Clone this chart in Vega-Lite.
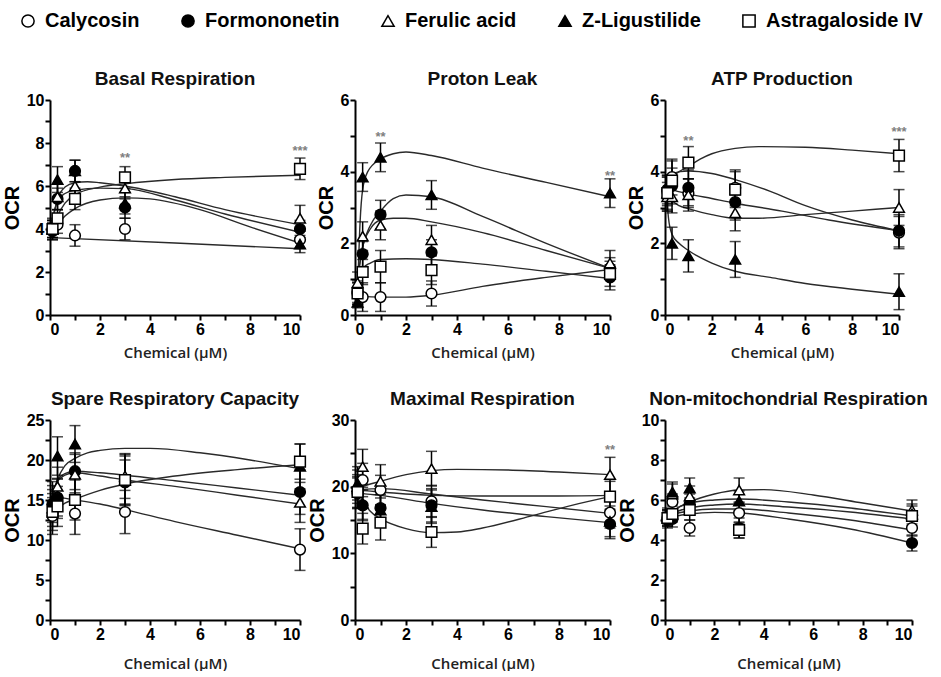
{
"$schema":"https://vega.github.io/schema/vega-lite/v6.json",
"background":"white",
"padding":{"left":2,"top":11,"right":0,"bottom":0},
"datasets":{
"pts":[
{"p":"BR","c":"Calycosin","x":0.1,"y":4.0,"e":0.4},{"p":"BR","c":"Calycosin","x":0.3,"y":4.2,"e":0.4},{"p":"BR","c":"Calycosin","x":1,"y":3.7,"e":0.5},{"p":"BR","c":"Calycosin","x":3,"y":4.0,"e":0.5},{"p":"BR","c":"Calycosin","x":10,"y":3.5,"e":0.4},
{"p":"BR","c":"Formononetin","x":0.1,"y":3.9,"e":0.4},{"p":"BR","c":"Formononetin","x":0.3,"y":5.4,"e":0.5},{"p":"BR","c":"Formononetin","x":1,"y":6.7,"e":0.5},{"p":"BR","c":"Formononetin","x":3,"y":5.0,"e":0.5},{"p":"BR","c":"Formononetin","x":10,"y":4.0,"e":0.4},
{"p":"BR","c":"Ferulic acid","x":0.1,"y":4.0,"e":0.5},{"p":"BR","c":"Ferulic acid","x":0.3,"y":5.5,"e":0.6},{"p":"BR","c":"Ferulic acid","x":1,"y":6.0,"e":0.6},{"p":"BR","c":"Ferulic acid","x":3,"y":5.9,"e":0.5},{"p":"BR","c":"Ferulic acid","x":10,"y":4.5,"e":0.6},
{"p":"BR","c":"Z-Ligustilide","x":0.1,"y":4.0,"e":0.4},{"p":"BR","c":"Z-Ligustilide","x":0.3,"y":6.3,"e":0.6},{"p":"BR","c":"Z-Ligustilide","x":1,"y":6.7,"e":0.5},{"p":"BR","c":"Z-Ligustilide","x":3,"y":5.2,"e":0.5},{"p":"BR","c":"Z-Ligustilide","x":10,"y":3.3,"e":0.4},
{"p":"BR","c":"Astragaloside IV","x":0.1,"y":4.0,"e":0.4},{"p":"BR","c":"Astragaloside IV","x":0.3,"y":4.5,"e":0.4},{"p":"BR","c":"Astragaloside IV","x":1,"y":5.4,"e":0.5},{"p":"BR","c":"Astragaloside IV","x":3,"y":6.4,"e":0.5},{"p":"BR","c":"Astragaloside IV","x":10,"y":6.8,"e":0.5},
{"p":"PL","c":"Calycosin","x":0.1,"y":0.65,"e":0.3},{"p":"PL","c":"Calycosin","x":0.3,"y":0.5,"e":0.4},{"p":"PL","c":"Calycosin","x":1,"y":0.5,"e":0.4},{"p":"PL","c":"Calycosin","x":3,"y":0.6,"e":0.35},{"p":"PL","c":"Calycosin","x":10,"y":1.3,"e":0.3},
{"p":"PL","c":"Formononetin","x":0.1,"y":0.6,"e":0.3},{"p":"PL","c":"Formononetin","x":0.3,"y":1.7,"e":0.35},{"p":"PL","c":"Formononetin","x":1,"y":2.8,"e":0.4},{"p":"PL","c":"Formononetin","x":3,"y":1.75,"e":0.35},{"p":"PL","c":"Formononetin","x":10,"y":1.05,"e":0.35},
{"p":"PL","c":"Ferulic acid","x":0.1,"y":0.9,"e":0.3},{"p":"PL","c":"Ferulic acid","x":0.3,"y":2.2,"e":0.4},{"p":"PL","c":"Ferulic acid","x":1,"y":2.5,"e":0.4},{"p":"PL","c":"Ferulic acid","x":3,"y":2.1,"e":0.4},{"p":"PL","c":"Ferulic acid","x":10,"y":1.45,"e":0.35},
{"p":"PL","c":"Z-Ligustilide","x":0.1,"y":0.35,"e":0.15},{"p":"PL","c":"Z-Ligustilide","x":0.3,"y":3.85,"e":0.4},{"p":"PL","c":"Z-Ligustilide","x":1,"y":4.4,"e":0.4},{"p":"PL","c":"Z-Ligustilide","x":3,"y":3.35,"e":0.4},{"p":"PL","c":"Z-Ligustilide","x":10,"y":3.4,"e":0.4},
{"p":"PL","c":"Astragaloside IV","x":0.1,"y":0.6,"e":0.3},{"p":"PL","c":"Astragaloside IV","x":0.3,"y":1.2,"e":0.35},{"p":"PL","c":"Astragaloside IV","x":1,"y":1.35,"e":0.45},{"p":"PL","c":"Astragaloside IV","x":3,"y":1.25,"e":0.4},{"p":"PL","c":"Astragaloside IV","x":10,"y":1.15,"e":0.35},
{"p":"ATP","c":"Calycosin","x":0.1,"y":3.45,"e":0.4},{"p":"ATP","c":"Calycosin","x":0.3,"y":3.85,"e":0.5},{"p":"ATP","c":"Calycosin","x":1,"y":3.4,"e":0.4},{"p":"ATP","c":"Calycosin","x":3,"y":3.55,"e":0.5},{"p":"ATP","c":"Calycosin","x":10,"y":2.3,"e":0.45},
{"p":"ATP","c":"Formononetin","x":0.1,"y":3.5,"e":0.4},{"p":"ATP","c":"Formononetin","x":0.3,"y":3.6,"e":0.5},{"p":"ATP","c":"Formononetin","x":1,"y":3.55,"e":0.5},{"p":"ATP","c":"Formononetin","x":3,"y":3.15,"e":0.5},{"p":"ATP","c":"Formononetin","x":10,"y":2.35,"e":0.45},
{"p":"ATP","c":"Ferulic acid","x":0.1,"y":3.3,"e":0.4},{"p":"ATP","c":"Ferulic acid","x":0.3,"y":3.3,"e":0.45},{"p":"ATP","c":"Ferulic acid","x":1,"y":3.35,"e":0.45},{"p":"ATP","c":"Ferulic acid","x":3,"y":2.85,"e":0.5},{"p":"ATP","c":"Ferulic acid","x":10,"y":3.0,"e":0.5},
{"p":"ATP","c":"Z-Ligustilide","x":0.1,"y":3.4,"e":0.45},{"p":"ATP","c":"Z-Ligustilide","x":0.3,"y":2.0,"e":0.45},{"p":"ATP","c":"Z-Ligustilide","x":1,"y":1.65,"e":0.45},{"p":"ATP","c":"Z-Ligustilide","x":3,"y":1.55,"e":0.5},{"p":"ATP","c":"Z-Ligustilide","x":10,"y":0.65,"e":0.5},
{"p":"ATP","c":"Astragaloside IV","x":0.1,"y":3.4,"e":0.5},{"p":"ATP","c":"Astragaloside IV","x":0.3,"y":3.75,"e":0.55},{"p":"ATP","c":"Astragaloside IV","x":1,"y":4.25,"e":0.45},{"p":"ATP","c":"Astragaloside IV","x":3,"y":3.5,"e":0.5},{"p":"ATP","c":"Astragaloside IV","x":10,"y":4.45,"e":0.45},
{"p":"SRC","c":"Calycosin","x":0.1,"y":13.0,"e":2.3},{"p":"SRC","c":"Calycosin","x":0.3,"y":15.3,"e":2.3},{"p":"SRC","c":"Calycosin","x":1,"y":13.3,"e":2.6},{"p":"SRC","c":"Calycosin","x":3,"y":13.5,"e":2.7},{"p":"SRC","c":"Calycosin","x":10,"y":8.8,"e":2.6},
{"p":"SRC","c":"Formononetin","x":0.1,"y":14.5,"e":2.3},{"p":"SRC","c":"Formononetin","x":0.3,"y":15.2,"e":2.5},{"p":"SRC","c":"Formononetin","x":1,"y":18.6,"e":2.3},{"p":"SRC","c":"Formononetin","x":3,"y":17.2,"e":2.8},{"p":"SRC","c":"Formononetin","x":10,"y":16.0,"e":2.8},
{"p":"SRC","c":"Ferulic acid","x":0.1,"y":14.0,"e":2.3},{"p":"SRC","c":"Ferulic acid","x":0.3,"y":16.7,"e":2.4},{"p":"SRC","c":"Ferulic acid","x":1,"y":18.2,"e":2.5},{"p":"SRC","c":"Ferulic acid","x":3,"y":18.0,"e":2.8},{"p":"SRC","c":"Ferulic acid","x":10,"y":14.7,"e":2.5},
{"p":"SRC","c":"Z-Ligustilide","x":0.1,"y":15.0,"e":2.3},{"p":"SRC","c":"Z-Ligustilide","x":0.3,"y":20.5,"e":2.4},{"p":"SRC","c":"Z-Ligustilide","x":1,"y":22.0,"e":2.3},{"p":"SRC","c":"Z-Ligustilide","x":3,"y":17.5,"e":3.2},{"p":"SRC","c":"Z-Ligustilide","x":10,"y":19.2,"e":2.8},
{"p":"SRC","c":"Astragaloside IV","x":0.1,"y":13.5,"e":2.3},{"p":"SRC","c":"Astragaloside IV","x":0.3,"y":14.2,"e":2.5},{"p":"SRC","c":"Astragaloside IV","x":1,"y":15.0,"e":2.5},{"p":"SRC","c":"Astragaloside IV","x":3,"y":17.5,"e":3.0},{"p":"SRC","c":"Astragaloside IV","x":10,"y":19.8,"e":2.2},
{"p":"MR","c":"Calycosin","x":0.1,"y":19.3,"e":2.5},{"p":"MR","c":"Calycosin","x":0.3,"y":21.0,"e":2.5},{"p":"MR","c":"Calycosin","x":1,"y":19.5,"e":2.2},{"p":"MR","c":"Calycosin","x":3,"y":17.8,"e":2.4},{"p":"MR","c":"Calycosin","x":10,"y":16.1,"e":2.3},
{"p":"MR","c":"Formononetin","x":0.1,"y":19.0,"e":2.3},{"p":"MR","c":"Formononetin","x":0.3,"y":17.2,"e":2.3},{"p":"MR","c":"Formononetin","x":1,"y":16.8,"e":2.3},{"p":"MR","c":"Formononetin","x":3,"y":17.2,"e":2.5},{"p":"MR","c":"Formononetin","x":10,"y":14.4,"e":2.2},
{"p":"MR","c":"Ferulic acid","x":0.1,"y":20.0,"e":2.5},{"p":"MR","c":"Ferulic acid","x":0.3,"y":23.0,"e":2.6},{"p":"MR","c":"Ferulic acid","x":1,"y":20.8,"e":2.5},{"p":"MR","c":"Ferulic acid","x":3,"y":22.7,"e":2.6},{"p":"MR","c":"Ferulic acid","x":10,"y":21.8,"e":2.6},
{"p":"MR","c":"Z-Ligustilide","x":0.1,"y":20.5,"e":2.5},{"p":"MR","c":"Z-Ligustilide","x":0.3,"y":17.5,"e":2.4},{"p":"MR","c":"Z-Ligustilide","x":1,"y":16.5,"e":2.3},{"p":"MR","c":"Z-Ligustilide","x":3,"y":17.0,"e":2.5},{"p":"MR","c":"Z-Ligustilide","x":10,"y":14.8,"e":2.3},
{"p":"MR","c":"Astragaloside IV","x":0.1,"y":19.2,"e":2.3},{"p":"MR","c":"Astragaloside IV","x":0.3,"y":13.7,"e":2.3},{"p":"MR","c":"Astragaloside IV","x":1,"y":14.6,"e":2.6},{"p":"MR","c":"Astragaloside IV","x":3,"y":13.2,"e":2.3},{"p":"MR","c":"Astragaloside IV","x":10,"y":18.5,"e":2.3},
{"p":"NMR","c":"Calycosin","x":0.1,"y":5.1,"e":0.4},{"p":"NMR","c":"Calycosin","x":0.3,"y":5.9,"e":0.4},{"p":"NMR","c":"Calycosin","x":1,"y":4.6,"e":0.4},{"p":"NMR","c":"Calycosin","x":3,"y":5.35,"e":0.5},{"p":"NMR","c":"Calycosin","x":10,"y":4.6,"e":0.4},
{"p":"NMR","c":"Formononetin","x":0.1,"y":5.0,"e":0.4},{"p":"NMR","c":"Formononetin","x":0.3,"y":5.05,"e":0.4},{"p":"NMR","c":"Formononetin","x":1,"y":5.8,"e":0.5},{"p":"NMR","c":"Formononetin","x":3,"y":4.6,"e":0.5},{"p":"NMR","c":"Formononetin","x":10,"y":3.85,"e":0.4},
{"p":"NMR","c":"Ferulic acid","x":0.1,"y":5.2,"e":0.4},{"p":"NMR","c":"Ferulic acid","x":0.3,"y":6.3,"e":0.5},{"p":"NMR","c":"Ferulic acid","x":1,"y":6.2,"e":0.5},{"p":"NMR","c":"Ferulic acid","x":3,"y":6.5,"e":0.6},{"p":"NMR","c":"Ferulic acid","x":10,"y":5.5,"e":0.5},
{"p":"NMR","c":"Z-Ligustilide","x":0.1,"y":5.1,"e":0.4},{"p":"NMR","c":"Z-Ligustilide","x":0.3,"y":6.4,"e":0.5},{"p":"NMR","c":"Z-Ligustilide","x":1,"y":6.6,"e":0.5},{"p":"NMR","c":"Z-Ligustilide","x":3,"y":5.95,"e":0.5},{"p":"NMR","c":"Z-Ligustilide","x":10,"y":5.3,"e":0.5},
{"p":"NMR","c":"Astragaloside IV","x":0.1,"y":5.1,"e":0.4},{"p":"NMR","c":"Astragaloside IV","x":0.3,"y":5.3,"e":0.4},{"p":"NMR","c":"Astragaloside IV","x":1,"y":5.5,"e":0.5},{"p":"NMR","c":"Astragaloside IV","x":3,"y":4.5,"e":0.4},{"p":"NMR","c":"Astragaloside IV","x":10,"y":5.2,"e":0.5}
],
"curves":[
{"p":"BR","k":"Ca","x":0.05,"y":3.6},{"p":"BR","k":"Ca","x":5,"y":3.35},{"p":"BR","k":"Ca","x":10,"y":3.08},
{"p":"BR","k":"Fe","x":0.1,"y":4.3},{"p":"BR","k":"Fe","x":0.3,"y":5.4},{"p":"BR","k":"Fe","x":0.6,"y":5.95},{"p":"BR","k":"Fe","x":1,"y":6.15},{"p":"BR","k":"Fe","x":1.5,"y":6.2},{"p":"BR","k":"Fe","x":2,"y":6.15},{"p":"BR","k":"Fe","x":3,"y":6.0},{"p":"BR","k":"Fe","x":5,"y":5.5},{"p":"BR","k":"Fe","x":7,"y":4.9},{"p":"BR","k":"Fe","x":10,"y":4.2},
{"p":"BR","k":"Z","x":0.1,"y":4.5},{"p":"BR","k":"Z","x":0.3,"y":5.3},{"p":"BR","k":"Z","x":0.6,"y":5.65},{"p":"BR","k":"Z","x":1,"y":5.8},{"p":"BR","k":"Z","x":2,"y":5.9},{"p":"BR","k":"Z","x":3,"y":5.88},{"p":"BR","k":"Z","x":5,"y":5.35},{"p":"BR","k":"Z","x":7,"y":4.7},{"p":"BR","k":"Z","x":10,"y":3.85},
{"p":"BR","k":"Fo","x":0.1,"y":3.9},{"p":"BR","k":"Fo","x":0.3,"y":4.2},{"p":"BR","k":"Fo","x":0.6,"y":4.6},{"p":"BR","k":"Fo","x":1,"y":4.95},{"p":"BR","k":"Fo","x":2,"y":5.35},{"p":"BR","k":"Fo","x":3,"y":5.45},{"p":"BR","k":"Fo","x":4,"y":5.4},{"p":"BR","k":"Fo","x":6,"y":4.9},{"p":"BR","k":"Fo","x":8,"y":4.1},{"p":"BR","k":"Fo","x":10,"y":3.35},
{"p":"BR","k":"As","x":0.1,"y":4.0},{"p":"BR","k":"As","x":0.3,"y":4.6},{"p":"BR","k":"As","x":0.6,"y":5.2},{"p":"BR","k":"As","x":1,"y":5.6},{"p":"BR","k":"As","x":2,"y":5.95},{"p":"BR","k":"As","x":3,"y":6.1},{"p":"BR","k":"As","x":5,"y":6.3},{"p":"BR","k":"As","x":7,"y":6.4},{"p":"BR","k":"As","x":10,"y":6.5},
{"p":"PL","k":"Z","x":0.1,"y":0.6},{"p":"PL","k":"Z","x":0.2,"y":2.6},{"p":"PL","k":"Z","x":0.3,"y":3.5},{"p":"PL","k":"Z","x":0.5,"y":4.0},{"p":"PL","k":"Z","x":1,"y":4.35},{"p":"PL","k":"Z","x":1.5,"y":4.5},{"p":"PL","k":"Z","x":2,"y":4.55},{"p":"PL","k":"Z","x":3,"y":4.45},{"p":"PL","k":"Z","x":5,"y":4.1},{"p":"PL","k":"Z","x":7.5,"y":3.7},{"p":"PL","k":"Z","x":10,"y":3.3},
{"p":"PL","k":"Fo","x":0.1,"y":1.0},{"p":"PL","k":"Fo","x":0.3,"y":1.9},{"p":"PL","k":"Fo","x":0.6,"y":2.5},{"p":"PL","k":"Fo","x":1,"y":2.9},{"p":"PL","k":"Fo","x":1.5,"y":3.25},{"p":"PL","k":"Fo","x":2,"y":3.35},{"p":"PL","k":"Fo","x":3,"y":3.3},{"p":"PL","k":"Fo","x":5,"y":2.75},{"p":"PL","k":"Fo","x":7.5,"y":2.0},{"p":"PL","k":"Fo","x":10,"y":1.3},
{"p":"PL","k":"Fe","x":0.1,"y":1.0},{"p":"PL","k":"Fe","x":0.3,"y":1.9},{"p":"PL","k":"Fe","x":0.6,"y":2.4},{"p":"PL","k":"Fe","x":1,"y":2.65},{"p":"PL","k":"Fe","x":1.5,"y":2.7},{"p":"PL","k":"Fe","x":2,"y":2.7},{"p":"PL","k":"Fe","x":3,"y":2.6},{"p":"PL","k":"Fe","x":5,"y":2.3},{"p":"PL","k":"Fe","x":7.5,"y":1.8},{"p":"PL","k":"Fe","x":10,"y":1.3},
{"p":"PL","k":"As","x":0.1,"y":1.0},{"p":"PL","k":"As","x":0.3,"y":1.3},{"p":"PL","k":"As","x":0.6,"y":1.45},{"p":"PL","k":"As","x":1,"y":1.55},{"p":"PL","k":"As","x":2,"y":1.57},{"p":"PL","k":"As","x":3,"y":1.55},{"p":"PL","k":"As","x":5,"y":1.42},{"p":"PL","k":"As","x":7.5,"y":1.22},{"p":"PL","k":"As","x":10,"y":1.02},
{"p":"PL","k":"Ca","x":0.1,"y":0.6},{"p":"PL","k":"Ca","x":0.3,"y":0.52},{"p":"PL","k":"Ca","x":1,"y":0.5},{"p":"PL","k":"Ca","x":2,"y":0.5},{"p":"PL","k":"Ca","x":3,"y":0.55},{"p":"PL","k":"Ca","x":5,"y":0.8},{"p":"PL","k":"Ca","x":7.5,"y":1.05},{"p":"PL","k":"Ca","x":10,"y":1.27},
{"p":"ATP","k":"As","x":0.1,"y":3.7},{"p":"ATP","k":"As","x":0.3,"y":3.85},{"p":"ATP","k":"As","x":0.6,"y":4.0},{"p":"ATP","k":"As","x":1,"y":4.15},{"p":"ATP","k":"As","x":1.5,"y":4.35},{"p":"ATP","k":"As","x":2,"y":4.5},{"p":"ATP","k":"As","x":3,"y":4.65},{"p":"ATP","k":"As","x":4,"y":4.7},{"p":"ATP","k":"As","x":6,"y":4.68},{"p":"ATP","k":"As","x":8,"y":4.6},{"p":"ATP","k":"As","x":10,"y":4.5},
{"p":"ATP","k":"Ca","x":0.1,"y":3.8},{"p":"ATP","k":"Ca","x":0.3,"y":3.95},{"p":"ATP","k":"Ca","x":1,"y":4.02},{"p":"ATP","k":"Ca","x":2,"y":3.95},{"p":"ATP","k":"Ca","x":3,"y":3.78},{"p":"ATP","k":"Ca","x":4.5,"y":3.45},{"p":"ATP","k":"Ca","x":6,"y":3.05},{"p":"ATP","k":"Ca","x":8,"y":2.65},{"p":"ATP","k":"Ca","x":10,"y":2.35},
{"p":"ATP","k":"Fo","x":0.1,"y":3.55},{"p":"ATP","k":"Fo","x":0.3,"y":3.5},{"p":"ATP","k":"Fo","x":1,"y":3.38},{"p":"ATP","k":"Fo","x":2,"y":3.25},{"p":"ATP","k":"Fo","x":3,"y":3.12},{"p":"ATP","k":"Fo","x":5,"y":2.9},{"p":"ATP","k":"Fo","x":7,"y":2.65},{"p":"ATP","k":"Fo","x":10,"y":2.35},
{"p":"ATP","k":"Fe","x":0.1,"y":3.4},{"p":"ATP","k":"Fe","x":0.3,"y":3.2},{"p":"ATP","k":"Fe","x":0.6,"y":3.05},{"p":"ATP","k":"Fe","x":1,"y":2.97},{"p":"ATP","k":"Fe","x":2,"y":2.8},{"p":"ATP","k":"Fe","x":3,"y":2.7},{"p":"ATP","k":"Fe","x":4,"y":2.7},{"p":"ATP","k":"Fe","x":6,"y":2.8},{"p":"ATP","k":"Fe","x":8,"y":2.9},{"p":"ATP","k":"Fe","x":10,"y":3.0},
{"p":"ATP","k":"Z","x":0.05,"y":3.6},{"p":"ATP","k":"Z","x":0.15,"y":2.7},{"p":"ATP","k":"Z","x":0.3,"y":2.25},{"p":"ATP","k":"Z","x":0.6,"y":2.0},{"p":"ATP","k":"Z","x":1,"y":1.8},{"p":"ATP","k":"Z","x":2,"y":1.45},{"p":"ATP","k":"Z","x":3,"y":1.22},{"p":"ATP","k":"Z","x":4.5,"y":1.05},{"p":"ATP","k":"Z","x":6,"y":0.88},{"p":"ATP","k":"Z","x":8,"y":0.72},{"p":"ATP","k":"Z","x":10,"y":0.58},
{"p":"SRC","k":"Ca","x":0.1,"y":15.2},{"p":"SRC","k":"Ca","x":0.3,"y":15.3},{"p":"SRC","k":"Ca","x":1,"y":15.0},{"p":"SRC","k":"Ca","x":2,"y":14.5},{"p":"SRC","k":"Ca","x":3,"y":13.8},{"p":"SRC","k":"Ca","x":5,"y":12.3},{"p":"SRC","k":"Ca","x":7.5,"y":10.6},{"p":"SRC","k":"Ca","x":10,"y":8.9},
{"p":"SRC","k":"Z","x":0.1,"y":15.0},{"p":"SRC","k":"Z","x":0.3,"y":17.5},{"p":"SRC","k":"Z","x":0.6,"y":19.3},{"p":"SRC","k":"Z","x":1,"y":20.2},{"p":"SRC","k":"Z","x":1.5,"y":20.9},{"p":"SRC","k":"Z","x":2,"y":21.2},{"p":"SRC","k":"Z","x":3,"y":21.45},{"p":"SRC","k":"Z","x":4,"y":21.45},{"p":"SRC","k":"Z","x":6,"y":20.9},{"p":"SRC","k":"Z","x":8,"y":20.0},{"p":"SRC","k":"Z","x":10,"y":18.9},
{"p":"SRC","k":"Fo","x":0.1,"y":15.5},{"p":"SRC","k":"Fo","x":0.3,"y":17.5},{"p":"SRC","k":"Fo","x":0.6,"y":18.3},{"p":"SRC","k":"Fo","x":1,"y":18.6},{"p":"SRC","k":"Fo","x":2,"y":18.4},{"p":"SRC","k":"Fo","x":3,"y":18.1},{"p":"SRC","k":"Fo","x":5,"y":17.4},{"p":"SRC","k":"Fo","x":7.5,"y":16.5},{"p":"SRC","k":"Fo","x":10,"y":15.6},
{"p":"SRC","k":"Fe","x":0.1,"y":15.5},{"p":"SRC","k":"Fe","x":0.3,"y":17.3},{"p":"SRC","k":"Fe","x":0.6,"y":18.1},{"p":"SRC","k":"Fe","x":1,"y":18.4},{"p":"SRC","k":"Fe","x":2,"y":18.0},{"p":"SRC","k":"Fe","x":3,"y":17.5},{"p":"SRC","k":"Fe","x":5,"y":16.7},{"p":"SRC","k":"Fe","x":7.5,"y":15.6},{"p":"SRC","k":"Fe","x":10,"y":14.5},
{"p":"SRC","k":"As","x":0.1,"y":13.3},{"p":"SRC","k":"As","x":0.3,"y":14.0},{"p":"SRC","k":"As","x":0.6,"y":14.6},{"p":"SRC","k":"As","x":1,"y":15.1},{"p":"SRC","k":"As","x":2,"y":16.2},{"p":"SRC","k":"As","x":3,"y":17.0},{"p":"SRC","k":"As","x":5,"y":18.0},{"p":"SRC","k":"As","x":7.5,"y":18.8},{"p":"SRC","k":"As","x":10,"y":19.4},
{"p":"MR","k":"Fe","x":0.1,"y":19.6},{"p":"MR","k":"Fe","x":0.3,"y":20.0},{"p":"MR","k":"Fe","x":1,"y":20.8},{"p":"MR","k":"Fe","x":2,"y":21.8},{"p":"MR","k":"Fe","x":3,"y":22.4},{"p":"MR","k":"Fe","x":4,"y":22.6},{"p":"MR","k":"Fe","x":6,"y":22.5},{"p":"MR","k":"Fe","x":8,"y":22.2},{"p":"MR","k":"Fe","x":10,"y":21.8},
{"p":"MR","k":"As","x":0.1,"y":19.6},{"p":"MR","k":"As","x":0.3,"y":18.0},{"p":"MR","k":"As","x":0.6,"y":16.3},{"p":"MR","k":"As","x":1,"y":15.2},{"p":"MR","k":"As","x":2,"y":13.7},{"p":"MR","k":"As","x":3,"y":13.1},{"p":"MR","k":"As","x":4,"y":13.2},{"p":"MR","k":"As","x":5,"y":13.8},{"p":"MR","k":"As","x":7,"y":15.7},{"p":"MR","k":"As","x":8.5,"y":17.2},{"p":"MR","k":"As","x":10,"y":18.5},
{"p":"MR","k":"Z","x":0.1,"y":19.2},{"p":"MR","k":"Z","x":0.3,"y":19.4},{"p":"MR","k":"Z","x":1,"y":19.2},{"p":"MR","k":"Z","x":3,"y":18.7},{"p":"MR","k":"Z","x":5,"y":18.6},{"p":"MR","k":"Z","x":7.5,"y":18.6},{"p":"MR","k":"Z","x":10,"y":18.7},
{"p":"MR","k":"Ca","x":0.1,"y":19.4},{"p":"MR","k":"Ca","x":0.3,"y":19.6},{"p":"MR","k":"Ca","x":1,"y":19.7},{"p":"MR","k":"Ca","x":3,"y":18.9},{"p":"MR","k":"Ca","x":5,"y":18.0},{"p":"MR","k":"Ca","x":7.5,"y":17.0},{"p":"MR","k":"Ca","x":10,"y":16.0},
{"p":"MR","k":"Fo","x":0.1,"y":19.2},{"p":"MR","k":"Fo","x":0.3,"y":19.0},{"p":"MR","k":"Fo","x":1,"y":18.7},{"p":"MR","k":"Fo","x":3,"y":17.5},{"p":"MR","k":"Fo","x":5,"y":16.5},{"p":"MR","k":"Fo","x":7.5,"y":15.5},{"p":"MR","k":"Fo","x":10,"y":14.6},
{"p":"NMR","k":"Fe","x":0.1,"y":5.1},{"p":"NMR","k":"Fe","x":0.3,"y":5.4},{"p":"NMR","k":"Fe","x":1,"y":5.9},{"p":"NMR","k":"Fe","x":2,"y":6.3},{"p":"NMR","k":"Fe","x":3,"y":6.5},{"p":"NMR","k":"Fe","x":4,"y":6.52},{"p":"NMR","k":"Fe","x":6,"y":6.25},{"p":"NMR","k":"Fe","x":8,"y":5.85},{"p":"NMR","k":"Fe","x":10,"y":5.45},
{"p":"NMR","k":"Z","x":0.1,"y":5.1},{"p":"NMR","k":"Z","x":0.3,"y":5.4},{"p":"NMR","k":"Z","x":1,"y":5.85},{"p":"NMR","k":"Z","x":2,"y":6.0},{"p":"NMR","k":"Z","x":3,"y":6.05},{"p":"NMR","k":"Z","x":5,"y":5.9},{"p":"NMR","k":"Z","x":7.5,"y":5.6},{"p":"NMR","k":"Z","x":10,"y":5.2},
{"p":"NMR","k":"As","x":0.1,"y":5.05},{"p":"NMR","k":"As","x":0.3,"y":5.3},{"p":"NMR","k":"As","x":1,"y":5.6},{"p":"NMR","k":"As","x":2,"y":5.75},{"p":"NMR","k":"As","x":3,"y":5.8},{"p":"NMR","k":"As","x":5,"y":5.65},{"p":"NMR","k":"As","x":7.5,"y":5.4},{"p":"NMR","k":"As","x":10,"y":5.05},
{"p":"NMR","k":"Ca","x":0.1,"y":5.0},{"p":"NMR","k":"Ca","x":0.3,"y":5.25},{"p":"NMR","k":"Ca","x":1,"y":5.45},{"p":"NMR","k":"Ca","x":2,"y":5.55},{"p":"NMR","k":"Ca","x":3,"y":5.55},{"p":"NMR","k":"Ca","x":5,"y":5.35},{"p":"NMR","k":"Ca","x":7.5,"y":5.0},{"p":"NMR","k":"Ca","x":10,"y":4.5},
{"p":"NMR","k":"Fo","x":0.1,"y":5.0},{"p":"NMR","k":"Fo","x":0.3,"y":5.15},{"p":"NMR","k":"Fo","x":1,"y":5.3},{"p":"NMR","k":"Fo","x":2,"y":5.38},{"p":"NMR","k":"Fo","x":3,"y":5.35},{"p":"NMR","k":"Fo","x":5,"y":5.05},{"p":"NMR","k":"Fo","x":7.5,"y":4.55},{"p":"NMR","k":"Fo","x":10,"y":3.85}
],
"sig":[
{"p":"BR","x":3,"y":7.45,"t":"**"},{"p":"BR","x":10,"y":7.75,"t":"***"},
{"p":"PL","x":1,"y":5.05,"t":"**"},{"p":"PL","x":10,"y":3.95,"t":"**"},
{"p":"ATP","x":1,"y":4.95,"t":"**"},{"p":"ATP","x":10,"y":5.2,"t":"***"},
{"p":"MR","x":10,"y":25.9,"t":"**"}
]
},
"concat":[
{"width":250,"height":215,"title":"Basal Respiration",
"encoding":{"x":{"field":"x","type":"quantitative","scale":{"domain":[0,10]},"axis":{"values":[0,1,2,3,4,5,6,7,8,9,10],"labelExpr":"datum.value % 2 == 0 ? datum.label : ''","title":"Chemical (μM)"}},
"y":{"field":"y","type":"quantitative","scale":{"domain":[0,10]},"axis":{"values":[0,1,2,3,4,5,6,7,8,9,10],"labelExpr":"datum.value % 2 == 0 ? datum.label : ''","title":"OCR"}}},
"layer":[
{"data":{"name":"curves"},"transform":[{"filter":"datum.p == 'BR'"}],"mark":{"type":"line","interpolate":"monotone","color":"#2a2a2a","strokeWidth":1.4},"encoding":{"detail":{"field":"k"}}},
{"data":{"name":"pts"},"transform":[{"filter":"datum.p == 'BR'"}],"mark":{"type":"errorbar","color":"black","thickness":1.5,"ticks":{"size":11,"thickness":1.5,"color":"black"}},"encoding":{"yError":{"field":"e"}}},
{"data":{"name":"pts"},"transform":[{"filter":"datum.p == 'BR'"}],"mark":{"type":"point","size":115,"strokeWidth":1.5,"stroke":"black","opacity":1,"fillOpacity":1},
"encoding":{"shape":{"field":"c","type":"nominal","scale":{"domain":["Calycosin","Formononetin","Ferulic acid","Z-Ligustilide","Astragaloside IV"],"range":["circle","circle","triangle-up","triangle-up","square"]},"legend":{"title":null,"orient":"none","legendX":-32,"legendY":-89,"direction":"horizontal","columnPadding":38,"symbolSize":150,"labelFont":"Liberation Sans","labelFontSize":20,"labelFontWeight":"bold","labelColor":"black","labelOffset":7,"labelLimit":300,"encode":{"symbols":{"update":{"stroke":{"value":"black"},"strokeWidth":{"value":1.5}}}}}},
"fill":{"field":"c","type":"nominal","scale":{"domain":["Calycosin","Formononetin","Ferulic acid","Z-Ligustilide","Astragaloside IV"],"range":["white","black","white","black","white"]},"legend":{"title":null,"orient":"none","legendX":-32,"legendY":-89,"direction":"horizontal","columnPadding":38,"symbolSize":150,"labelFont":"Liberation Sans","labelFontSize":20,"labelFontWeight":"bold","labelColor":"black","labelOffset":7,"labelLimit":300,"encode":{"symbols":{"update":{"stroke":{"value":"black"},"strokeWidth":{"value":1.5}}}}}}}},
{"data":{"name":"sig"},"transform":[{"filter":"datum.p == 'BR'"}],"mark":{"type":"text","color":"#808080","fontSize":13,"fontWeight":"bold","font":"Liberation Sans","dy":3},"encoding":{"text":{"field":"t"}}}
]},
{"width":255,"height":215,"title":"Proton Leak",
"encoding":{"x":{"field":"x","type":"quantitative","scale":{"domain":[0,10]},"axis":{"values":[0,1,2,3,4,5,6,7,8,9,10],"labelExpr":"datum.value % 2 == 0 ? datum.label : ''","title":"Chemical (μM)"}},
"y":{"field":"y","type":"quantitative","scale":{"domain":[0,6]},"axis":{"values":[0,1,2,3,4,5,6],"labelExpr":"datum.value % 2 == 0 ? datum.label : ''","title":"OCR"}}},
"layer":[
{"data":{"name":"curves"},"transform":[{"filter":"datum.p == 'PL'"}],"mark":{"type":"line","interpolate":"monotone","color":"#2a2a2a","strokeWidth":1.4},"encoding":{"detail":{"field":"k"}}},
{"data":{"name":"pts"},"transform":[{"filter":"datum.p == 'PL'"}],"mark":{"type":"errorbar","color":"black","thickness":1.5,"ticks":{"size":11,"thickness":1.5,"color":"black"}},"encoding":{"yError":{"field":"e"}}},
{"data":{"name":"pts"},"transform":[{"filter":"datum.p == 'PL'"}],"mark":{"type":"point","size":115,"strokeWidth":1.5,"stroke":"black","opacity":1,"fillOpacity":1},
"encoding":{"shape":{"field":"c","type":"nominal","scale":{"domain":["Calycosin","Formononetin","Ferulic acid","Z-Ligustilide","Astragaloside IV"],"range":["circle","circle","triangle-up","triangle-up","square"]},"legend":{"title":null,"orient":"none","legendX":-32,"legendY":-89,"direction":"horizontal","columnPadding":38,"symbolSize":150,"labelFont":"Liberation Sans","labelFontSize":20,"labelFontWeight":"bold","labelColor":"black","labelOffset":7,"labelLimit":300,"encode":{"symbols":{"update":{"stroke":{"value":"black"},"strokeWidth":{"value":1.5}}}}}},
"fill":{"field":"c","type":"nominal","scale":{"domain":["Calycosin","Formononetin","Ferulic acid","Z-Ligustilide","Astragaloside IV"],"range":["white","black","white","black","white"]},"legend":{"title":null,"orient":"none","legendX":-32,"legendY":-89,"direction":"horizontal","columnPadding":38,"symbolSize":150,"labelFont":"Liberation Sans","labelFontSize":20,"labelFontWeight":"bold","labelColor":"black","labelOffset":7,"labelLimit":300,"encode":{"symbols":{"update":{"stroke":{"value":"black"},"strokeWidth":{"value":1.5}}}}}}}},
{"data":{"name":"sig"},"transform":[{"filter":"datum.p == 'PL'"}],"mark":{"type":"text","color":"#808080","fontSize":13,"fontWeight":"bold","font":"Liberation Sans","dy":3},"encoding":{"text":{"field":"t"}}}
]},
{"width":234,"height":215,"title":"ATP Production",
"encoding":{"x":{"field":"x","type":"quantitative","scale":{"domain":[0,10]},"axis":{"values":[0,1,2,3,4,5,6,7,8,9,10],"labelExpr":"datum.value % 2 == 0 ? datum.label : ''","title":"Chemical (μM)"}},
"y":{"field":"y","type":"quantitative","scale":{"domain":[0,6]},"axis":{"values":[0,1,2,3,4,5,6],"labelExpr":"datum.value % 2 == 0 ? datum.label : ''","title":"OCR"}}},
"layer":[
{"data":{"name":"curves"},"transform":[{"filter":"datum.p == 'ATP'"}],"mark":{"type":"line","interpolate":"monotone","color":"#2a2a2a","strokeWidth":1.4},"encoding":{"detail":{"field":"k"}}},
{"data":{"name":"pts"},"transform":[{"filter":"datum.p == 'ATP'"}],"mark":{"type":"errorbar","color":"black","thickness":1.5,"ticks":{"size":11,"thickness":1.5,"color":"black"}},"encoding":{"yError":{"field":"e"}}},
{"data":{"name":"pts"},"transform":[{"filter":"datum.p == 'ATP'"}],"mark":{"type":"point","size":115,"strokeWidth":1.5,"stroke":"black","opacity":1,"fillOpacity":1},
"encoding":{"shape":{"field":"c","type":"nominal","scale":{"domain":["Calycosin","Formononetin","Ferulic acid","Z-Ligustilide","Astragaloside IV"],"range":["circle","circle","triangle-up","triangle-up","square"]},"legend":{"title":null,"orient":"none","legendX":-32,"legendY":-89,"direction":"horizontal","columnPadding":38,"symbolSize":150,"labelFont":"Liberation Sans","labelFontSize":20,"labelFontWeight":"bold","labelColor":"black","labelOffset":7,"labelLimit":300,"encode":{"symbols":{"update":{"stroke":{"value":"black"},"strokeWidth":{"value":1.5}}}}}},
"fill":{"field":"c","type":"nominal","scale":{"domain":["Calycosin","Formononetin","Ferulic acid","Z-Ligustilide","Astragaloside IV"],"range":["white","black","white","black","white"]},"legend":{"title":null,"orient":"none","legendX":-32,"legendY":-89,"direction":"horizontal","columnPadding":38,"symbolSize":150,"labelFont":"Liberation Sans","labelFontSize":20,"labelFontWeight":"bold","labelColor":"black","labelOffset":7,"labelLimit":300,"encode":{"symbols":{"update":{"stroke":{"value":"black"},"strokeWidth":{"value":1.5}}}}}}}},
{"data":{"name":"sig"},"transform":[{"filter":"datum.p == 'ATP'"}],"mark":{"type":"text","color":"#808080","fontSize":13,"fontWeight":"bold","font":"Liberation Sans","dy":3},"encoding":{"text":{"field":"t"}}}
]},
{"width":250,"height":200,"title":"Spare Respiratory Capacity",
"encoding":{"x":{"field":"x","type":"quantitative","scale":{"domain":[0,10]},"axis":{"values":[0,1,2,3,4,5,6,7,8,9,10],"labelExpr":"datum.value % 2 == 0 ? datum.label : ''","title":"Chemical (μM)","titlePadding":14}},
"y":{"field":"y","type":"quantitative","scale":{"domain":[0,25]},"axis":{"values":[0,2.5,5,7.5,10,12.5,15,17.5,20,22.5,25],"labelExpr":"datum.value % 5 == 0 ? datum.label : ''","title":"OCR"}}},
"layer":[
{"data":{"name":"curves"},"transform":[{"filter":"datum.p == 'SRC'"}],"mark":{"type":"line","interpolate":"monotone","color":"#2a2a2a","strokeWidth":1.4},"encoding":{"detail":{"field":"k"}}},
{"data":{"name":"pts"},"transform":[{"filter":"datum.p == 'SRC'"}],"mark":{"type":"errorbar","color":"black","thickness":1.5,"ticks":{"size":11,"thickness":1.5,"color":"black"}},"encoding":{"yError":{"field":"e"}}},
{"data":{"name":"pts"},"transform":[{"filter":"datum.p == 'SRC'"}],"mark":{"type":"point","size":115,"strokeWidth":1.5,"stroke":"black","opacity":1,"fillOpacity":1},
"encoding":{"shape":{"field":"c","type":"nominal","scale":{"domain":["Calycosin","Formononetin","Ferulic acid","Z-Ligustilide","Astragaloside IV"],"range":["circle","circle","triangle-up","triangle-up","square"]},"legend":{"title":null,"orient":"none","legendX":-32,"legendY":-89,"direction":"horizontal","columnPadding":38,"symbolSize":150,"labelFont":"Liberation Sans","labelFontSize":20,"labelFontWeight":"bold","labelColor":"black","labelOffset":7,"labelLimit":300,"encode":{"symbols":{"update":{"stroke":{"value":"black"},"strokeWidth":{"value":1.5}}}}}},
"fill":{"field":"c","type":"nominal","scale":{"domain":["Calycosin","Formononetin","Ferulic acid","Z-Ligustilide","Astragaloside IV"],"range":["white","black","white","black","white"]},"legend":{"title":null,"orient":"none","legendX":-32,"legendY":-89,"direction":"horizontal","columnPadding":38,"symbolSize":150,"labelFont":"Liberation Sans","labelFontSize":20,"labelFontWeight":"bold","labelColor":"black","labelOffset":7,"labelLimit":300,"encode":{"symbols":{"update":{"stroke":{"value":"black"},"strokeWidth":{"value":1.5}}}}}}}}
]},
{"width":255,"height":200,"title":"Maximal Respiration",
"encoding":{"x":{"field":"x","type":"quantitative","scale":{"domain":[0,10]},"axis":{"values":[0,1,2,3,4,5,6,7,8,9,10],"labelExpr":"datum.value % 2 == 0 ? datum.label : ''","title":"Chemical (μM)","titlePadding":14}},
"y":{"field":"y","type":"quantitative","scale":{"domain":[0,30]},"axis":{"values":[0,5,10,15,20,25,30],"labelExpr":"datum.value % 10 == 0 ? datum.label : ''","title":"OCR"}}},
"layer":[
{"data":{"name":"curves"},"transform":[{"filter":"datum.p == 'MR'"}],"mark":{"type":"line","interpolate":"monotone","color":"#2a2a2a","strokeWidth":1.4},"encoding":{"detail":{"field":"k"}}},
{"data":{"name":"pts"},"transform":[{"filter":"datum.p == 'MR'"}],"mark":{"type":"errorbar","color":"black","thickness":1.5,"ticks":{"size":11,"thickness":1.5,"color":"black"}},"encoding":{"yError":{"field":"e"}}},
{"data":{"name":"pts"},"transform":[{"filter":"datum.p == 'MR'"}],"mark":{"type":"point","size":115,"strokeWidth":1.5,"stroke":"black","opacity":1,"fillOpacity":1},
"encoding":{"shape":{"field":"c","type":"nominal","scale":{"domain":["Calycosin","Formononetin","Ferulic acid","Z-Ligustilide","Astragaloside IV"],"range":["circle","circle","triangle-up","triangle-up","square"]},"legend":{"title":null,"orient":"none","legendX":-32,"legendY":-89,"direction":"horizontal","columnPadding":38,"symbolSize":150,"labelFont":"Liberation Sans","labelFontSize":20,"labelFontWeight":"bold","labelColor":"black","labelOffset":7,"labelLimit":300,"encode":{"symbols":{"update":{"stroke":{"value":"black"},"strokeWidth":{"value":1.5}}}}}},
"fill":{"field":"c","type":"nominal","scale":{"domain":["Calycosin","Formononetin","Ferulic acid","Z-Ligustilide","Astragaloside IV"],"range":["white","black","white","black","white"]},"legend":{"title":null,"orient":"none","legendX":-32,"legendY":-89,"direction":"horizontal","columnPadding":38,"symbolSize":150,"labelFont":"Liberation Sans","labelFontSize":20,"labelFontWeight":"bold","labelColor":"black","labelOffset":7,"labelLimit":300,"encode":{"symbols":{"update":{"stroke":{"value":"black"},"strokeWidth":{"value":1.5}}}}}}}},
{"data":{"name":"sig"},"transform":[{"filter":"datum.p == 'MR'"}],"mark":{"type":"text","color":"#808080","fontSize":13,"fontWeight":"bold","font":"Liberation Sans","dy":3},"encoding":{"text":{"field":"t"}}}
]},
{"width":247,"height":200,"title":"Non-mitochondrial Respiration",
"encoding":{"x":{"field":"x","type":"quantitative","scale":{"domain":[0,10]},"axis":{"values":[0,1,2,3,4,5,6,7,8,9,10],"labelExpr":"datum.value % 2 == 0 ? datum.label : ''","title":"Chemical (μM)","titlePadding":14}},
"y":{"field":"y","type":"quantitative","scale":{"domain":[0,10]},"axis":{"values":[0,1,2,3,4,5,6,7,8,9,10],"labelExpr":"datum.value % 2 == 0 ? datum.label : ''","title":"OCR"}}},
"layer":[
{"data":{"name":"curves"},"transform":[{"filter":"datum.p == 'NMR'"}],"mark":{"type":"line","interpolate":"monotone","color":"#2a2a2a","strokeWidth":1.4},"encoding":{"detail":{"field":"k"}}},
{"data":{"name":"pts"},"transform":[{"filter":"datum.p == 'NMR'"}],"mark":{"type":"errorbar","color":"black","thickness":1.5,"ticks":{"size":11,"thickness":1.5,"color":"black"}},"encoding":{"yError":{"field":"e"}}},
{"data":{"name":"pts"},"transform":[{"filter":"datum.p == 'NMR'"}],"mark":{"type":"point","size":115,"strokeWidth":1.5,"stroke":"black","opacity":1,"fillOpacity":1},
"encoding":{"shape":{"field":"c","type":"nominal","scale":{"domain":["Calycosin","Formononetin","Ferulic acid","Z-Ligustilide","Astragaloside IV"],"range":["circle","circle","triangle-up","triangle-up","square"]},"legend":{"title":null,"orient":"none","legendX":-32,"legendY":-89,"direction":"horizontal","columnPadding":38,"symbolSize":150,"labelFont":"Liberation Sans","labelFontSize":20,"labelFontWeight":"bold","labelColor":"black","labelOffset":7,"labelLimit":300,"encode":{"symbols":{"update":{"stroke":{"value":"black"},"strokeWidth":{"value":1.5}}}}}},
"fill":{"field":"c","type":"nominal","scale":{"domain":["Calycosin","Formononetin","Ferulic acid","Z-Ligustilide","Astragaloside IV"],"range":["white","black","white","black","white"]},"legend":{"title":null,"orient":"none","legendX":-32,"legendY":-89,"direction":"horizontal","columnPadding":38,"symbolSize":150,"labelFont":"Liberation Sans","labelFontSize":20,"labelFontWeight":"bold","labelColor":"black","labelOffset":7,"labelLimit":300,"encode":{"symbols":{"update":{"stroke":{"value":"black"},"strokeWidth":{"value":1.5}}}}}}}}
]}
],
"columns":3,
"spacing":{"row":105,"column":55},
"bounds":"flush",
"resolve":{"scale":{"shape":"shared","fill":"shared"},"legend":{"shape":"shared","fill":"shared"}},
"config":{
"view":{"stroke":null},
"axis":{"grid":false,"domainColor":"black","domainWidth":2,"tickColor":"black","tickWidth":2,"tickSize":5,"labelFont":"Liberation Sans","labelFontSize":16,"labelFontWeight":"bold","labelColor":"black","labelPadding":1},
"axisX":{"titleFont":"Open Sans","titleFontSize":15,"titleFontWeight":600,"titleColor":"#222","titlePadding":8},
"axisY":{"titleFont":"Liberation Sans","titleFontSize":20,"titleFontWeight":"bold","titleColor":"black","titlePadding":4},
"title":{"font":"Liberation Sans","fontSize":19,"fontWeight":"bold","color":"#111","offset":3}
}
}
